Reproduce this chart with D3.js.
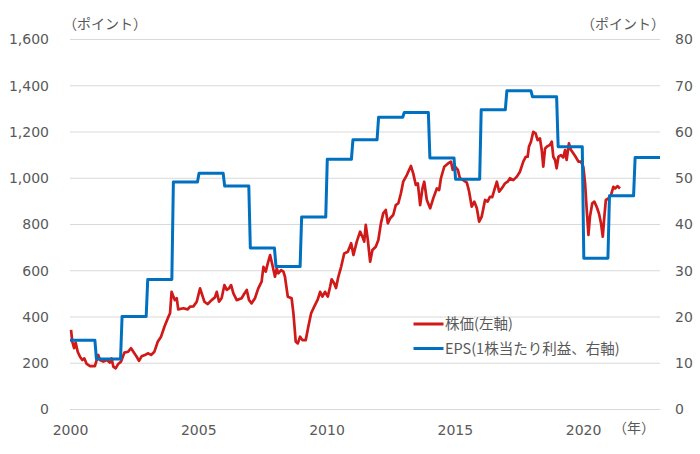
<!DOCTYPE html>
<html>
<head>
<meta charset="utf-8">
<script src="https://cdn.jsdelivr.net/npm/d3@7"></script>
<style>
  html, body { margin: 0; padding: 0; background: #fff; }
  svg { display: block; }
</style>
</head>
<body>
<svg id="chart" width="700" height="454"></svg>
<script>
// ---- data ----
const yearTicks = [2000, 2005, 2010, 2015, 2020];
const leftTicks = [0, 200, 400, 600, 800, 1000, 1200, 1400, 1600];
const rightTicks = [0, 10, 20, 30, 40, 50, 60, 70, 80];

// EPS (right axis), one value per fiscal year
const epsYears  = [2000, 2001, 2002, 2003, 2004, 2005, 2006, 2007, 2008, 2009, 2010, 2011,
                   2012, 2013, 2014, 2015, 2016, 2017, 2018, 2019, 2020, 2021, 2022];
const epsValues = [15.0, 10.9, 20.1, 28.1, 49.2, 51.1, 48.3, 34.9, 30.9, 41.6, 54.1, 58.3,
                   63.2, 64.2, 54.4, 49.8, 64.8, 68.9, 67.6, 56.8, 32.7, 46.2, 54.5];

// Stock price (left axis)
const priceYears = [
  2000.04, 2000.09, 2000.16, 2000.22, 2000.30, 2000.39, 2000.48, 2000.56, 2000.65, 2000.78, 2000.97,
  2001.04, 2001.10, 2001.17, 2001.30, 2001.43, 2001.56, 2001.62, 2001.69, 2001.78, 2001.88, 2001.99,
  2002.12, 2002.27, 2002.38, 2002.47, 2002.60, 2002.69, 2002.79, 2002.92,
  2003.05, 2003.16, 2003.29, 2003.42, 2003.55, 2003.68, 2003.81, 2003.90, 2003.96,
  2004.03, 2004.09, 2004.16, 2004.22, 2004.42, 2004.59, 2004.68, 2004.81, 2004.94,
  2005.07, 2005.24, 2005.37, 2005.52, 2005.65, 2005.72, 2005.81, 2005.91,
  2006.02, 2006.11, 2006.20, 2006.28, 2006.37, 2006.50, 2006.69, 2006.80, 2006.89, 2006.98,
  2007.08, 2007.21, 2007.34, 2007.47, 2007.54, 2007.63, 2007.71, 2007.80, 2007.89, 2007.99,
  2008.06, 2008.12, 2008.23, 2008.32, 2008.38, 2008.49, 2008.64, 2008.71, 2008.80, 2008.88, 2008.97,
  2009.06, 2009.19, 2009.29, 2009.40, 2009.52, 2009.66, 2009.75, 2009.84, 2009.94,
  2010.05, 2010.14, 2010.20, 2010.30, 2010.37, 2010.46, 2010.57, 2010.69, 2010.83, 2010.96,
  2011.05, 2011.18, 2011.31, 2011.40, 2011.47, 2011.53, 2011.61, 2011.70, 2011.79, 2011.92,
  2012.02, 2012.12, 2012.21, 2012.31, 2012.39, 2012.48, 2012.60, 2012.70, 2012.80, 2012.90, 2012.99,
  2013.13, 2013.29, 2013.38, 2013.48, 2013.56, 2013.65, 2013.74, 2013.81, 2013.91,
  2014.04, 2014.16, 2014.30, 2014.39, 2014.46, 2014.59, 2014.75, 2014.85, 2014.92,
  2015.01, 2015.12, 2015.20, 2015.33, 2015.47, 2015.56, 2015.66, 2015.76, 2015.86, 2015.95,
  2016.05, 2016.18, 2016.28, 2016.37, 2016.46, 2016.54, 2016.64, 2016.73, 2016.83, 2016.96,
  2017.06, 2017.15, 2017.28, 2017.42, 2017.54, 2017.67, 2017.77, 2017.84, 2017.89, 2017.97,
  2018.06, 2018.15, 2018.23, 2018.32, 2018.39, 2018.45, 2018.52, 2018.62, 2018.71, 2018.78, 2018.84, 2018.91, 2018.97,
  2019.04, 2019.14, 2019.23, 2019.30, 2019.36, 2019.45, 2019.53, 2019.62, 2019.71, 2019.82, 2019.92,
  2020.01, 2020.08, 2020.14, 2020.21, 2020.27, 2020.36, 2020.44, 2020.53, 2020.62, 2020.70, 2020.77, 2020.83, 2020.89, 2020.99,
  2021.09, 2021.18, 2021.25, 2021.35, 2021.44
];
const priceValues = [
  344, 293, 265, 289, 250, 228, 214, 221, 197, 188, 188,
  214, 236, 214, 207, 214, 203, 221, 185, 178, 197, 207,
  246, 250, 265, 250, 228, 210, 230, 236,
  243, 236, 250, 293, 315, 358, 394, 416, 509,
  488, 473, 481, 433, 438, 433, 445, 446, 466,
  524, 466, 456, 473, 485, 509, 466, 481,
  538, 517, 524, 538, 502, 473, 481, 502, 517, 473,
  459, 481, 524, 553, 617, 596, 632, 668, 625, 574,
  610, 589, 603, 596, 574, 488, 481, 416, 293, 286, 315,
  300, 300, 358, 416, 445, 476, 509, 488, 509,
  488, 531, 563, 545, 525, 574, 617, 675, 682, 719,
  668, 726, 769, 747, 726, 798, 733, 639, 690, 704,
  733, 805, 848, 863, 805, 827, 841, 884, 892, 935, 985,
  1014, 1053, 1021, 971, 978, 884, 956, 985, 906,
  870, 913, 956, 949, 1000, 1050, 1065, 1072, 1036,
  1050, 1036, 1000, 992, 981, 942, 877, 899, 870, 812,
  834, 906, 899, 920, 918, 949, 985, 942, 956, 978,
  985, 1000, 992, 1007, 1028, 1072, 1093, 1093, 1136, 1158,
  1201, 1194, 1165, 1172, 1122, 1050, 1129, 1139, 1144, 1158, 1093, 1079, 1043,
  1093, 1100, 1090, 1122, 1079, 1151, 1122, 1108, 1093, 1072, 1072,
  1050, 978, 870, 755, 834, 892, 899, 877, 848, 805, 747, 834, 906, 913,
  927, 963, 956, 966, 956
];

const labelUnit = "（ポイント）";
const labelYear = "（年）";
const legendPrice = "株価(左軸)";
const legendEps = "EPS(1株当たり利益、右軸)";

// ---- drawing ----
const svg = d3.select("#chart");
const plotL = 70, plotR = 660, plotT = 39.5, plotB = 409.5;
const gray = "#595959";
const red = "#D01A1A", blue = "#0070C0";

const x = d3.scaleLinear().domain([2000, 2023]).range([plotL, plotR]);
const yL = d3.scaleLinear().domain([0, 1600]).range([plotB, plotT]);
const yR = d3.scaleLinear().domain([0, 80]).range([plotB, plotT]);

// gridlines
svg.append("g").selectAll("line").data(leftTicks).join("line")
  .attr("x1", plotL).attr("x2", plotR)
  .attr("y1", d => yL(d)).attr("y2", d => yL(d))
  .attr("stroke", "#D9D9D9").attr("stroke-width", 1);

// left axis
const axL = svg.append("g").attr("transform", `translate(${plotL},0)`)
  .call(d3.axisLeft(yL).tickValues(leftTicks).tickFormat(d3.format(",")).tickSize(0).tickPadding(21));
axL.select(".domain").remove();
axL.selectAll("text").attr("font-family", "DejaVu Sans").attr("font-size", 14).attr("fill", gray);

// right axis
const axR = svg.append("g").attr("transform", `translate(${plotR},0)`)
  .call(d3.axisRight(yR).tickValues(rightTicks).tickSize(0).tickPadding(15));
axR.select(".domain").remove();
axR.selectAll("text").attr("font-family", "DejaVu Sans").attr("font-size", 14).attr("fill", gray);

// bottom axis
const axB = svg.append("g").attr("transform", `translate(0,${plotB})`)
  .call(d3.axisBottom(x).tickValues(yearTicks).tickFormat(d3.format("d")).tickSize(0).tickPadding(16));
axB.select(".domain").remove();
axB.selectAll("text").attr("font-family", "DejaVu Sans").attr("font-size", 14).attr("fill", gray);

// unit labels
const jp = "'Noto Sans CJK JP', 'Noto Sans CJK SC', sans-serif";
svg.append("text").attr("x", 63).attr("y", 29).text(labelUnit)
  .attr("font-family", jp).attr("font-size", 14).attr("fill", gray);
svg.append("text").attr("x", 665).attr("y", 29).attr("text-anchor", "end").text(labelUnit)
  .attr("font-family", jp).attr("font-size", 14).attr("fill", gray);
svg.append("text").attr("x", 613).attr("y", 433).text(labelYear)
  .attr("font-family", jp).attr("font-size", 14).attr("fill", gray);

// price line
const pricePts = priceYears.map((yr, i) => [yr, priceValues[i]]);
svg.append("path").datum(pricePts)
  .attr("d", d3.line().x(d => x(d[0])).y(d => yL(d[1])))
  .attr("fill", "none").attr("stroke", red).attr("stroke-width", 2.7)
  .attr("stroke-linejoin", "round");

// EPS step line
const epsPts = [];
epsYears.forEach((yr, i) => {
  epsPts.push([i === 0 ? yr : yr + 0.03, epsValues[i]]);
  epsPts.push([i === epsYears.length - 1 ? yr + 1 : yr + 0.97, epsValues[i]]);
});
svg.append("path").datum(epsPts)
  .attr("d", d3.line().x(d => x(d[0])).y(d => yR(d[1])))
  .attr("fill", "none").attr("stroke", blue).attr("stroke-width", 3)
  .attr("stroke-linejoin", "round");

// legend
const legend = [[legendPrice, red, 324], [legendEps, blue, 348.5]];
legend.forEach(([t, c, yy]) => {
  svg.append("line").attr("x1", 413.5).attr("x2", 443.5).attr("y1", yy).attr("y2", yy)
    .attr("stroke", c).attr("stroke-width", 3);
  svg.append("text").attr("x", 445).attr("y", yy).attr("dy", "0.36em").text(t)
    .attr("font-family", jp).attr("font-size", 14.5).attr("fill", gray);
});
</script>
</body>
</html>
